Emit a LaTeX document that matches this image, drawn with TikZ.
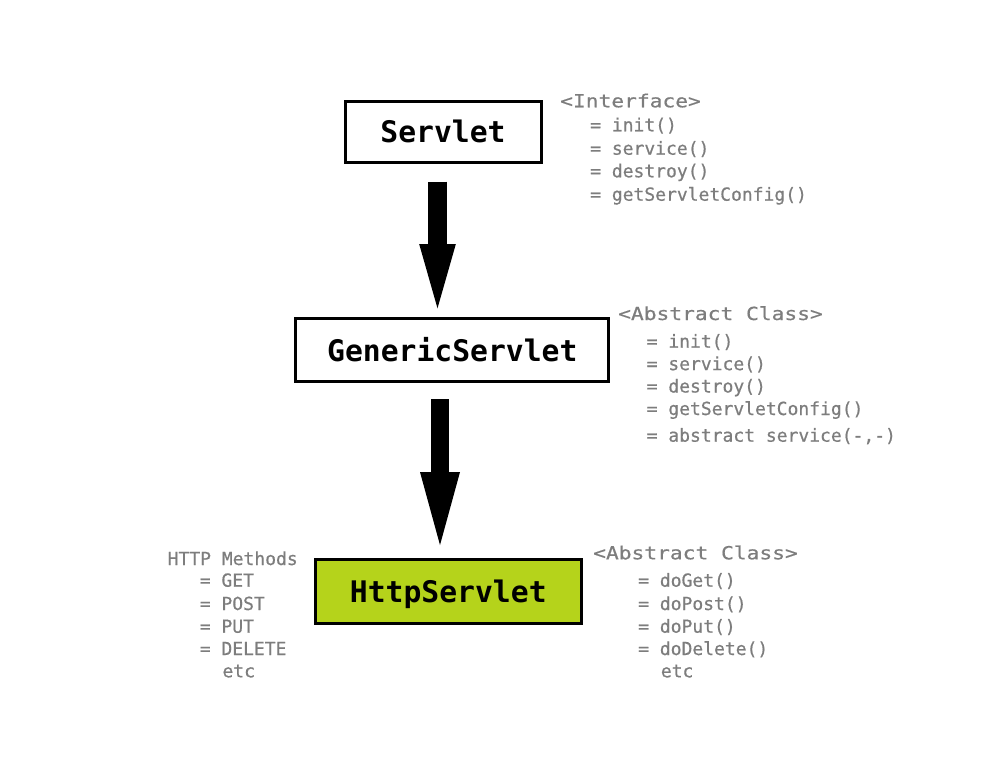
\documentclass[tikz,border=0pt]{standalone}
\usepackage{fontspec}
\setmonofont{DejaVu Sans Mono}
\newfontfamily\memfont[FakeBold=0.6]{DejaVu Sans Mono}
\newfontfamily\hdrfont[FakeStretch=1.18,FakeBold=0.6]{DejaVu Sans Mono}
\usetikzlibrary{arrows.meta}
\definecolor{txtgray}{RGB}{125,125,125}
\definecolor{limegreen}{RGB}{181,211,27}
\begin{document}
\begin{tikzpicture}[x=1pt,y=-1pt,
  classbox/.style={draw=black, line width=3pt, outer sep=1.5pt, inner sep=0pt, fill=white,
    font=\ttfamily\bfseries\fontsize{29.7pt}{32pt}\selectfont, text height=21.6pt, text depth=0pt},
  member/.style={anchor=base west, inner sep=0pt, text=txtgray, font=\memfont\fontsize{18pt}{20pt}\selectfont},
  header/.style={anchor=base west, inner sep=0pt, text=txtgray, font=\hdrfont\fontsize{18pt}{20pt}\selectfont},
  bigarrow/.style n args={3}{line width=#1, -{Triangle[length=#3,width=#2,line width=0pt]}}
]
\useasboundingbox (0,0) rectangle (991,766);

% class boxes
\node[classbox, minimum width=196pt, minimum height=60.7pt] (servlet) at (443,132) {Servlet};
\node[classbox, minimum width=313.3pt, minimum height=63pt] (generic) at (452.3,350.3) {GenericServlet};
\node[classbox, fill=limegreen, minimum width=265.7pt, minimum height=63.7pt] (http) at (448.3,591.7) {HttpServlet};

% arrows
\draw[bigarrow={19pt}{36.7pt}{64.3pt}] ([xshift=-5.5pt,yshift=-17.7pt]servlet.south) -- ([xshift=-14.8pt,yshift=9pt]generic.north);
\draw[bigarrow={18pt}{40pt}{73pt}] ([xshift=-12.3pt,yshift=-15.7pt]generic.south) -- ([xshift=-8.3pt,yshift=13.3pt]http.north);

% Servlet members
\node[header] (h1) at (560,107.3) {<Interface>};
\node[member] (s1) at (590,131.3) {= init()};
\node[member] (s2) at (590,154.7) {= service()};
\node[member] (s3) at (590,177.3) {= destroy()};
\node[member] (s4) at (590,200.7) {= getServletConfig()};

% GenericServlet members
\node[header] (h2) at (618,320) {<Abstract Class>};
\node[member] (g1) at (646.5,347.7) {= init()};
\node[member] (g2) at (646.5,370.1) {= service()};
\node[member] (g3) at (646.5,392.5) {= destroy()};
\node[member] (g4) at (646.5,415) {= getServletConfig()};
\node[member] (g5) at (646.5,441.7) {= abstract service(-,-)};

% HttpServlet members
\node[header] (h3) at (593,559.3) {<Abstract Class>};
\node[member] (m1) at (638,586.7) {= doGet()};
\node[member] (m2) at (638,610) {= doPost()};
\node[member] (m3) at (638,632.7) {= doPut()};
\node[member] (m4) at (638,655) {= doDelete()};
\node[member] (m5) at (660.7,677.3) {etc};

% HTTP methods
\node[member] (hm) at (167.5,565) {HTTP Methods};
\node[member] (t1) at (199.6,586.7) {= GET};
\node[member] (t2) at (199.6,610) {= POST};
\node[member] (t3) at (199.6,632.7) {= PUT};
\node[member] (t4) at (199.6,655) {= DELETE};
\node[member] (t5) at (222.3,677.3) {etc};
\end{tikzpicture}
\end{document}
